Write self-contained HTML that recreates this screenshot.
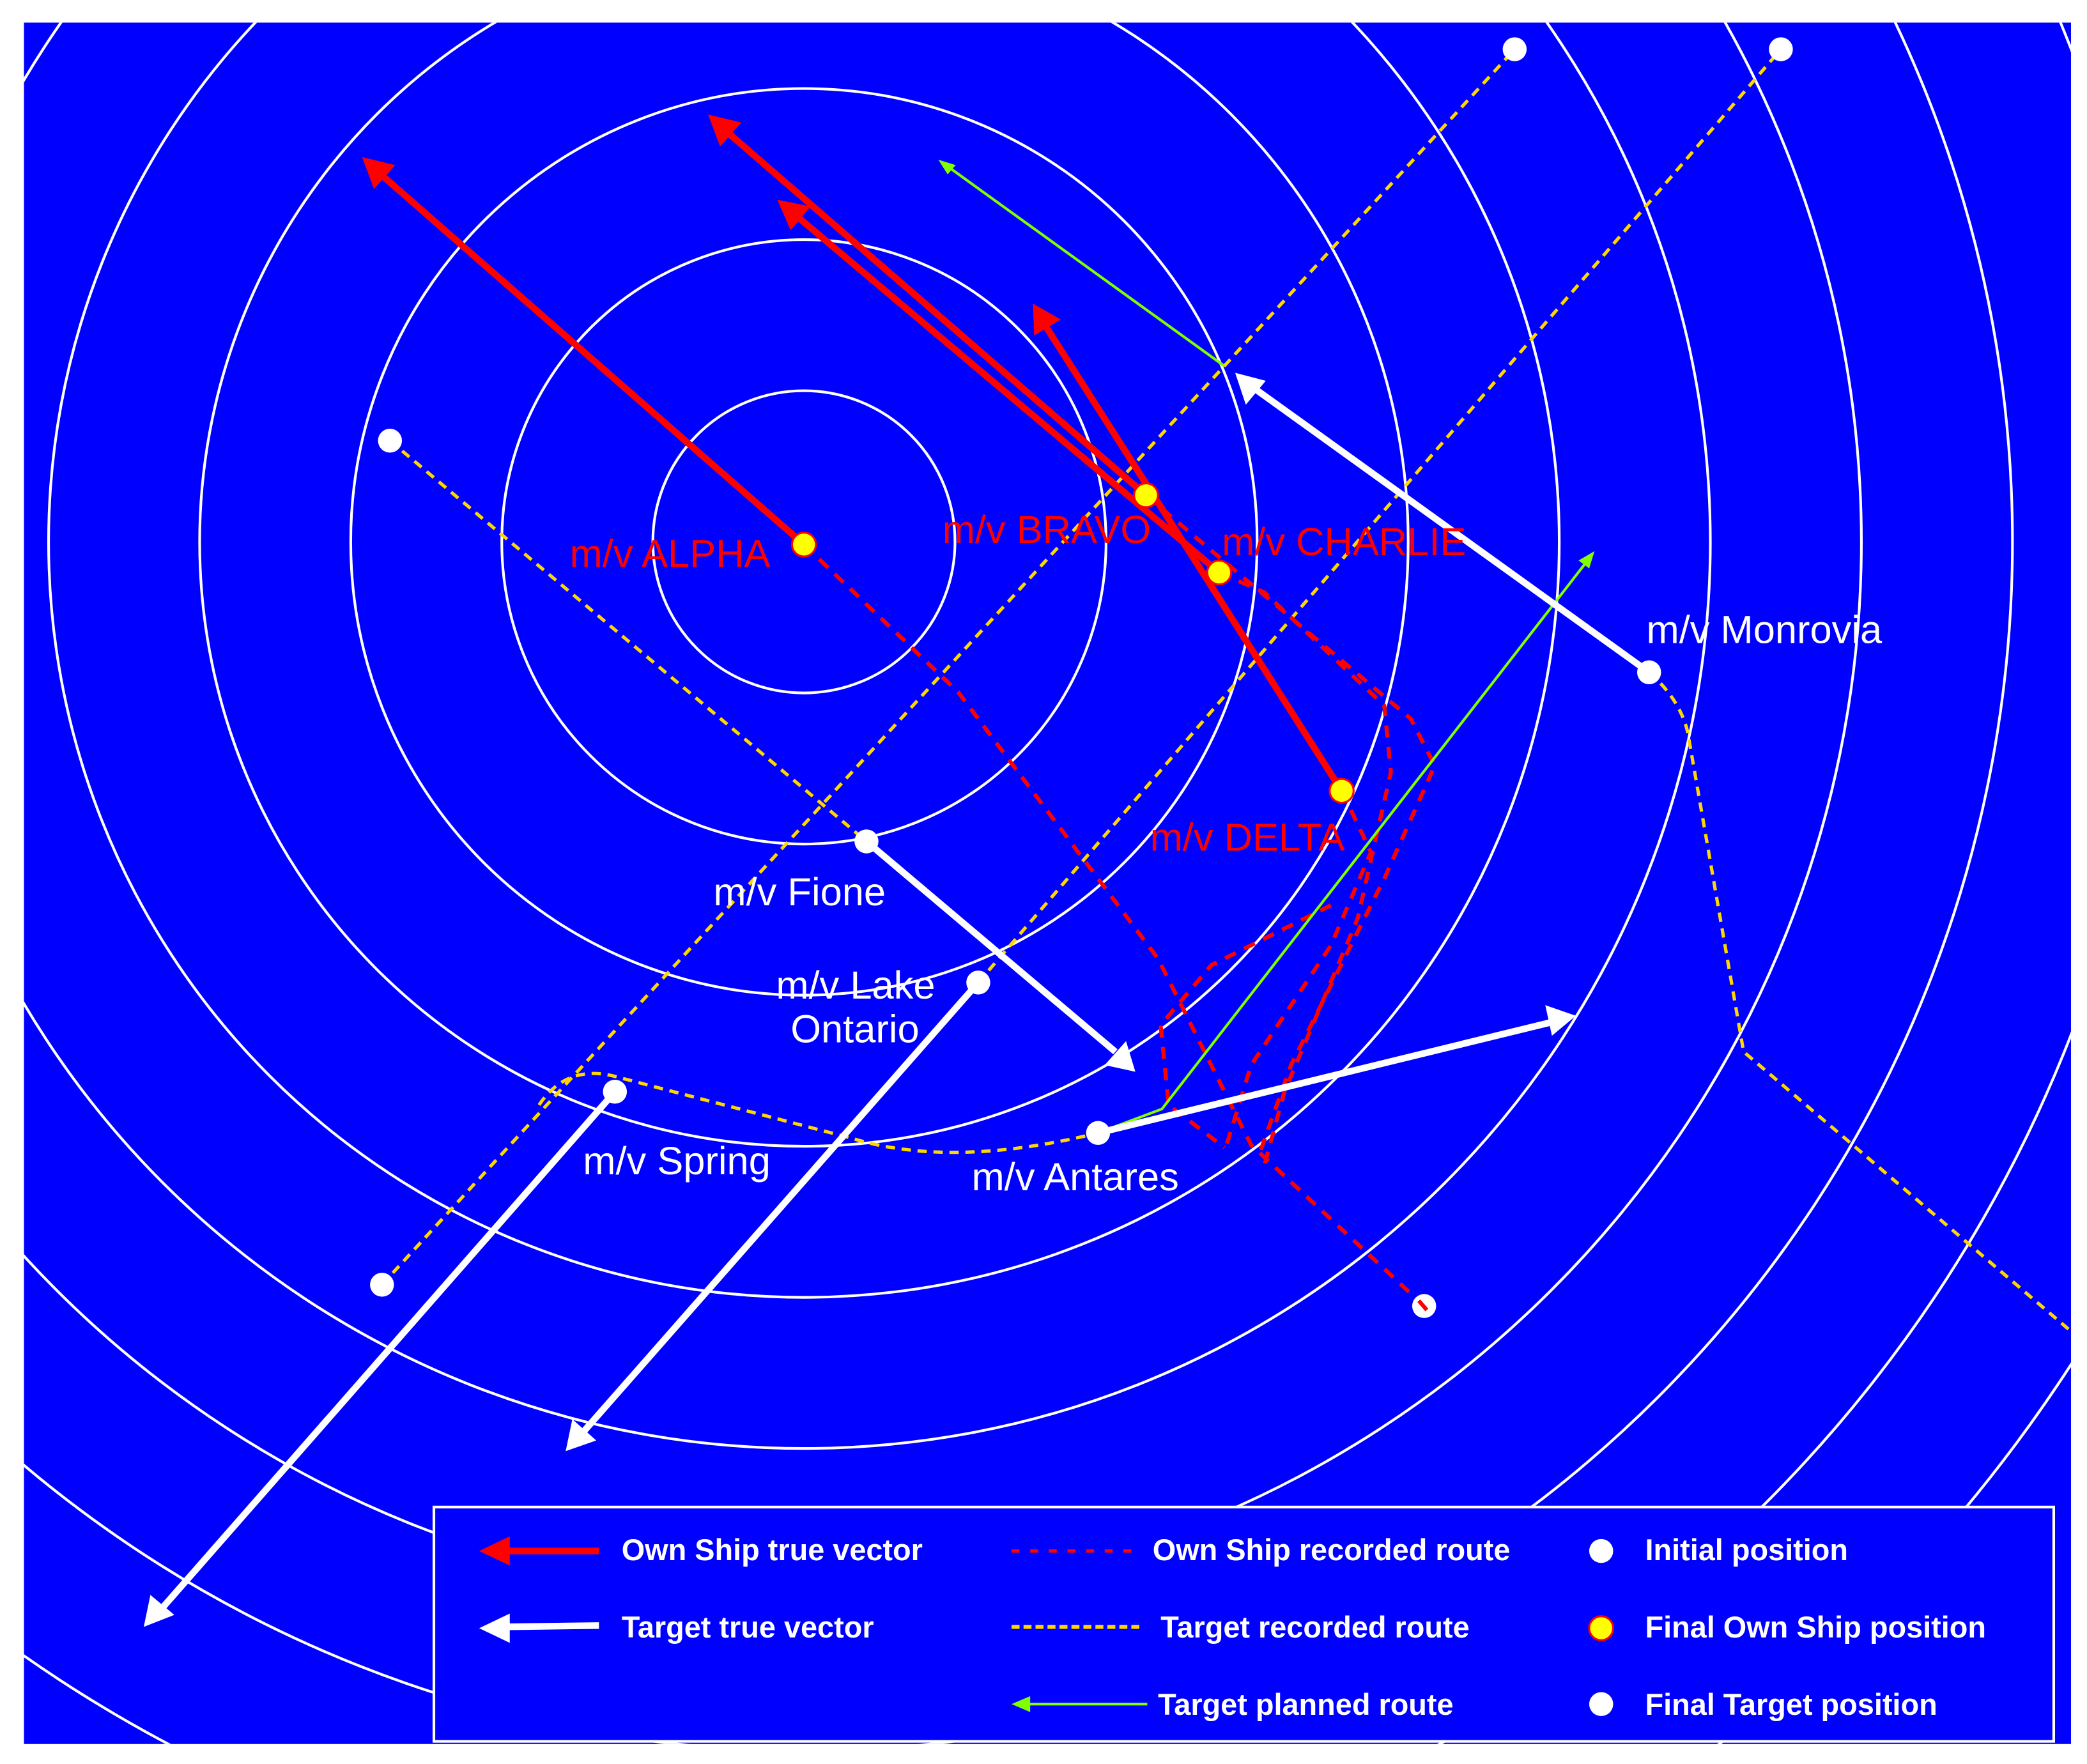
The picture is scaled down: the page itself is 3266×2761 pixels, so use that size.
<!DOCTYPE html>
<html><head><meta charset="utf-8"><style>
html,body{margin:0;padding:0;background:#fff;overflow:hidden;width:3266px;height:2761px;}
svg{display:block;}
text{font-family:"Liberation Sans",sans-serif;}
</style></head><body>
<svg width="3266" height="2761" viewBox="0 0 1568 1325" preserveAspectRatio="none" xmlns="http://www.w3.org/2000/svg">
<defs>
<clipPath id="c"><rect x="18" y="17" width="1538" height="1293"/></clipPath>
</defs>
<rect x="0" y="0" width="1568" height="1325" fill="#fff"/>
<rect x="18" y="17" width="1538" height="1293" fill="#0000ff"/>
<g clip-path="url(#c)" fill="none" stroke="#fff" stroke-width="2">
<circle cx="604" cy="407" r="113.5"/>
<circle cx="604" cy="407" r="227"/>
<circle cx="604" cy="407" r="340.5"/>
<circle cx="604" cy="407" r="454"/>
<circle cx="604" cy="407" r="567.5"/>
<circle cx="604" cy="407" r="681"/>
<circle cx="604" cy="407" r="794.5"/>
<circle cx="604" cy="407" r="908"/>
<circle cx="604" cy="407" r="1021.5"/>
<circle cx="604" cy="407" r="1135"/>
</g>
<g clip-path="url(#c)">
<g fill="none" stroke="#ffd700" stroke-width="2.5" stroke-dasharray="7,5">
<path d="M293,331 L651,632"/>
<path d="M287,965 L1138,37"/>
<path d="M735,738 L1338,37"/>
<path d="M1239,505 Q1262,525 1268,550 L1310,790 L1556,1000"/>
<path d="M405,830 Q425,800 460,808 L640,855 Q715,878 825,851"/>
</g>
<g fill="none" stroke="#ff0000" stroke-width="3" stroke-dasharray="9,7">
<path d="M604,409 L720,520 L870,720 L940,860 L1070,981"/>
<path d="M916,430 L950,445 L1040,530 L1045,580 L1020,690 L965,820 L950,875"/>
<path d="M861,372 L900,405 L1060,540 L1078,575 L1040,660 L970,800 L945,870"/>
<path d="M1008,594 L1030,640 L1000,710 L940,800 L920,865"/>
<path d="M1000,680 L910,725 L872,770 L878,830 L920,862"/>
</g>
<g stroke="#7fff00" stroke-width="2" fill="none">
<path d="M920,275 L712,125"/>
<path d="M825,851 L873,833 L1192,422"/>
</g>
<polygon points="705,120 718,124 712,131" fill="#7fff00"/>
<polygon points="1198,414 1186,421 1194,427" fill="#7fff00"/>
<g stroke="#fff" stroke-width="5" fill="none">
<line x1="1239" y1="505" x2="940" y2="290"/>
<line x1="651" y1="632" x2="838" y2="790"/>
<line x1="735" y1="738" x2="437" y2="1077"/>
<line x1="462" y1="820" x2="120" y2="1210"/>
<line x1="825" y1="851" x2="1165" y2="768"/>
</g>
<g fill="#fff">
<polygon points="928,280 951,286 936,304"/>
<polygon points="853,805 830,800 846,782"/>
<polygon points="425,1090 430,1066 448,1082"/>
<polygon points="108,1222 113,1198 131,1213"/>
<polygon points="1184,763 1166,778 1161,755"/>
</g>
<g stroke="#ff0000" stroke-width="5" fill="none">
<line x1="604" y1="409" x2="285" y2="130"/>
<line x1="861" y1="372" x2="545" y2="98"/>
<line x1="916" y1="430" x2="597" y2="161"/>
<line x1="1008" y1="594" x2="785" y2="244"/>
</g>
<g fill="#ff0000">
<polygon points="272,118 297,124 281,142"/>
<polygon points="532,86 557,92 541,110"/>
<polygon points="584,150 609,155 594,173"/>
<polygon points="776,228 797,240 777,252"/>
</g>
<g fill="#fff">
<circle cx="293" cy="331" r="9"/>
<circle cx="1138" cy="37" r="9"/>
<circle cx="1338" cy="37" r="9"/>
<circle cx="287" cy="965" r="9"/>
<circle cx="1070" cy="981" r="9"/>
<circle cx="1239" cy="505" r="9"/>
<circle cx="651" cy="632" r="9"/>
<circle cx="735" cy="738" r="9"/>
<circle cx="462" cy="820" r="9"/>
<circle cx="825" cy="851" r="9"/>
</g>
<line x1="1066" y1="977" x2="1072" y2="984" stroke="#f00" stroke-width="3"/>
<g fill="#ffff00" stroke="#ff0000" stroke-width="1.5">
<circle cx="604" cy="409" r="9"/>
<circle cx="861" cy="372" r="9"/>
<circle cx="916" cy="430" r="9"/>
<circle cx="1008" cy="594" r="9"/>
</g>
<g fill="#ff0000" font-size="29.5">
<text x="428" y="426">m/v ALPHA</text>
<text x="708" y="408">m/v BRAVO</text>
<text x="918" y="417">m/v CHARLIE</text>
<text x="864" y="639">m/v DELTA</text>
</g>
<g fill="#fff" font-size="29.5">
<text x="1237" y="483">m/v Monrovia</text>
<text x="536" y="680">m/v Fione</text>
<text x="583" y="750">m/v Lake</text>
<text x="594" y="783">Ontario</text>
<text x="438" y="882">m/v Spring</text>
<text x="730" y="894">m/v Antares</text>
</g>
</g>
<rect x="326" y="1132" width="1217" height="176" fill="#0000ff" stroke="#fff" stroke-width="2"/>
<line x1="378" y1="1165" x2="450" y2="1165" stroke="#f00" stroke-width="5"/>
<polygon points="360,1165 383,1154 383,1176" fill="#f00"/>
<line x1="378" y1="1222" x2="450" y2="1221" stroke="#fff" stroke-width="5"/>
<polygon points="360,1223 383,1212 383,1234" fill="#fff"/>
<line x1="760" y1="1165" x2="850" y2="1165" stroke="#f00" stroke-width="2.5" stroke-dasharray="6,8"/>
<line x1="760" y1="1222" x2="856" y2="1222" stroke="#ffd700" stroke-width="3" stroke-dasharray="6,3"/>
<line x1="770" y1="1280" x2="862" y2="1280" stroke="#7fff00" stroke-width="2"/>
<polygon points="760,1280 774,1274 774,1286" fill="#7fff00"/>
<circle cx="1203" cy="1165" r="9" fill="#fff"/>
<circle cx="1203" cy="1223" r="9" fill="#ffff00" stroke="#f00" stroke-width="1.5"/>
<circle cx="1203" cy="1280" r="9" fill="#fff"/>
<g fill="#fff" font-size="22.5" font-weight="bold">
<text x="467" y="1172">Own Ship true vector</text>
<text x="467" y="1230">Target true vector</text>
<text x="866" y="1172">Own Ship recorded route</text>
<text x="872" y="1230">Target recorded route</text>
<text x="870" y="1288">Target planned route</text>
<text x="1236" y="1172">Initial position</text>
<text x="1236" y="1230">Final Own Ship position</text>
<text x="1236" y="1288">Final Target position</text>
</g>
</svg>
</body></html>
